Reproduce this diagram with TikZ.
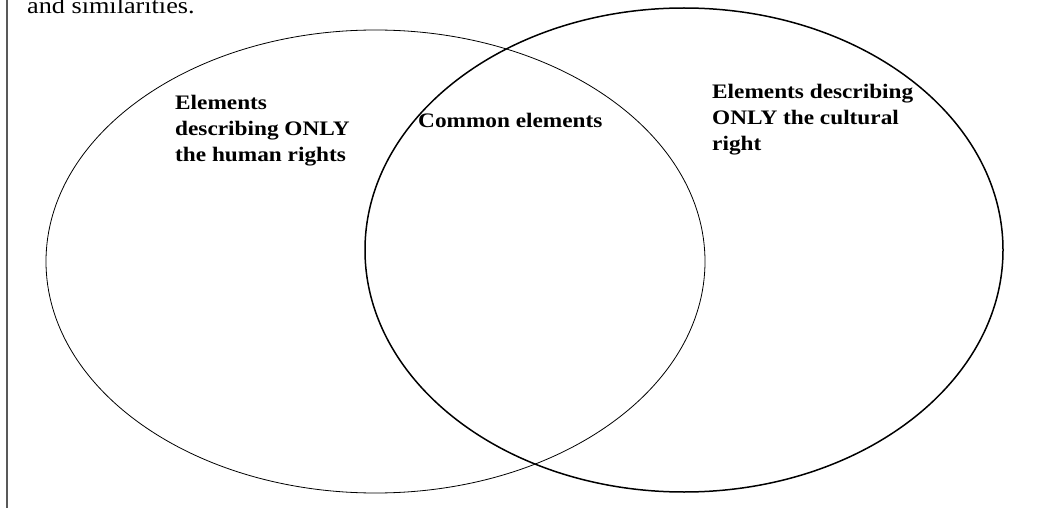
\documentclass[tikz,border=0pt]{standalone}
\usepackage{fontspec}
\setmainfont{Liberation Serif}[FakeStretch=1.13]
\begin{document}
\begin{tikzpicture}[x=1pt,y=-1pt,
  label text/.style={font=\fontsize{20.6}{26}\selectfont\bfseries, align=left, inner sep=0pt, anchor=base west},
  body text/.style={font=\fontsize{23.2}{27}\selectfont, inner sep=0pt, anchor=base west}]
  \useasboundingbox (0,0) rectangle (1045,508);
  % page margin rule on the left
  \draw[line width=1.1pt, black!65] (7,0) -- (7,508);
  % tail of the preceding paragraph
  \node[body text] (intro) at (27,14) {and similarities.};
  % the two overlapping sets
  \draw[line width=0.8pt] (375.5,261.5) ellipse [x radius=329.5, y radius=231.5];
  \draw[line width=1.5pt] (684,250) ellipse [x radius=319, y radius=242];
  % set labels (anchored at the baseline of the last line)
  \node[label text] (human) at (175,162) {Elements\\describing ONLY\\the human rights};
  \node[label text] (common) at (418,128) {Common elements};
  \node[label text] (cultural) at (712,151) {Elements describing\\ONLY the cultural\\right};
\end{tikzpicture}
\end{document}
